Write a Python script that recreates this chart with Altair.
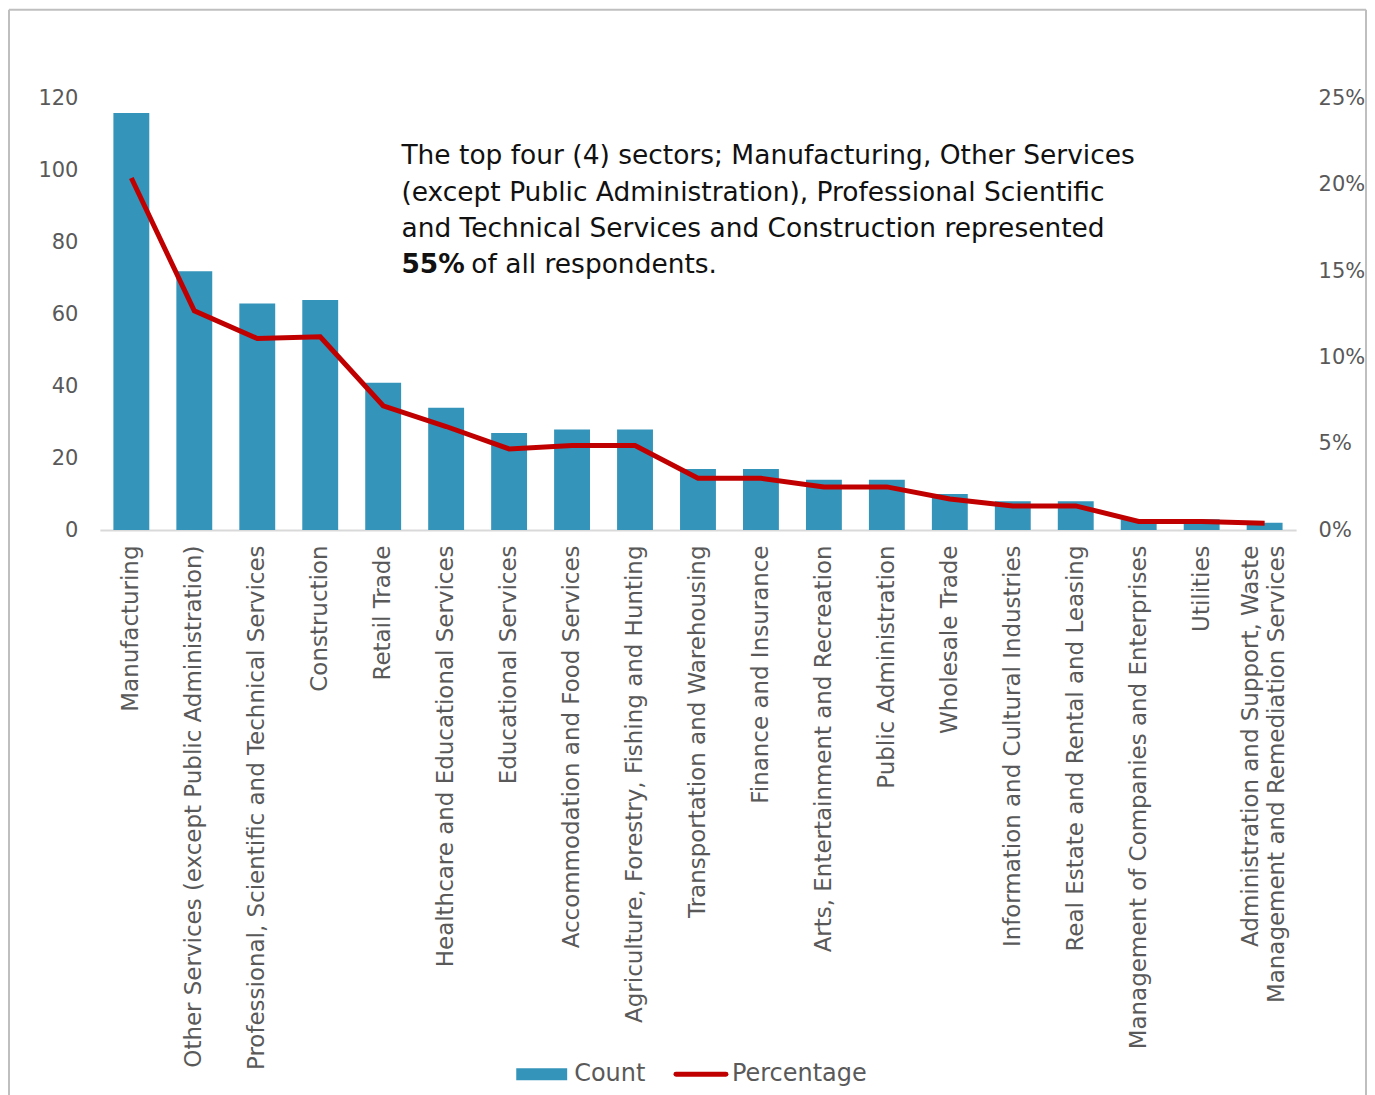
import altair as alt
import pandas as pd

sectors = [
    "Manufacturing",
    "Other Services (except Public Administration)",
    "Professional, Scientific and Technical Services",
    "Construction",
    "Retail Trade",
    "Healthcare and Educational Services",
    "Educational Services",
    "Accommodation and Food Services",
    "Agriculture, Forestry, Fishing and Hunting",
    "Transportation and Warehousing",
    "Finance and Insurance",
    "Arts, Entertainment and Recreation",
    "Public Administration",
    "Wholesale Trade",
    "Information and Cultural Industries",
    "Real Estate and Rental and Leasing",
    "Management of Companies and Enterprises",
    "Utilities",
    "Administration and Support, Waste Management and Remediation Services",
]
counts = [116, 72, 63, 64, 41, 34, 27, 28, 28, 17, 17, 14, 14, 10, 8, 8, 3, 3, 2]
percentages = [20.4, 12.7, 11.1, 11.2, 7.2, 6.0, 4.7, 4.9, 4.9, 3.0, 3.0, 2.5, 2.5,
               1.8, 1.4, 1.4, 0.5, 0.5, 0.4]
left_ticks = [0, 20, 40, 60, 80, 100, 120]
right_ticks = [0, 5, 10, 15, 20, 25]

note_lines = [
    "The top four (4) sectors; Manufacturing, Other Services",
    "(except Public Administration), Professional Scientific",
    "and Technical Services and Construction represented",
]
note_bold = "55%"
note_tail = "of all respondents."
legend_names = ["Count", "Percentage"]

FONT = "DejaVu Sans"
BLUE = "#3494BA"
RED = "#C00000"
GRAY = "#595959"
INK = "#111111"

df = pd.DataFrame({"sector": sectors, "count": counts, "pct": percentages})

long_label = sectors[-1]
label_expr = (
    f"datum.label == '{long_label}' ? "
    "['Administration and Support, Waste', 'Management and Remediation Services'] : datum.label"
)

x_enc = alt.X(
    "sector:N",
    sort=sectors,
    scale=alt.Scale(paddingInner=0.43, paddingOuter=0.215),
    axis=alt.Axis(
        title=None, labelAngle=-90, labelExpr=label_expr, labelFont=FONT,
        labelFontSize=23, labelColor=GRAY, labelPadding=15, ticks=False,
        domainColor="#D9D9D9", domainWidth=2, labelLimit=700, labelLineHeight=26,
        labelOffset={"condition": {"test": f"datum.value == '{long_label}'", "value": -14},
                     "value": 0},
    ),
)

bars = alt.Chart(df).mark_bar(color=BLUE).encode(
    x=x_enc,
    y=alt.Y(
        "count:Q",
        scale=alt.Scale(domain=[0, 120], nice=False),
        axis=alt.Axis(
            title=None, values=left_ticks, grid=False, domain=False, ticks=False,
            labelFont=FONT, labelFontSize=21, labelColor=GRAY, labelPadding=22,
        ),
    ),
)

line = alt.Chart(df).mark_line(color=RED, strokeWidth=5, strokeJoin="miter").encode(
    x=alt.X("sector:N", sort=sectors),
    y=alt.Y(
        "pct:Q",
        scale=alt.Scale(domain=[0, 25], nice=False),
        axis=alt.Axis(
            title=None, orient="right", values=right_ticks, grid=False, domain=False,
            ticks=False, labelExpr="datum.value + '%'", labelFont=FONT,
            labelFontSize=21, labelColor=GRAY, labelPadding=22,
        ),
    ),
)


def text_layer(t, x, y, size, weight="normal", color=INK, baseline="alphabetic"):
    return alt.Chart(pd.DataFrame({"t": [t]})).mark_text(
        align="left", baseline=baseline, font=FONT, fontSize=size,
        fontWeight=weight, color=color
    ).encode(x=alt.value(x), y=alt.value(y), text="t:N")


NOTE_SIZE = 26.5
note_layers = [text_layer(t, 302, 65 + 37 * k, NOTE_SIZE) for k, t in enumerate(note_lines)]
note_layers.append(text_layer(note_bold, 302, 175, NOTE_SIZE, weight="bold"))
note_layers.append(text_layer(note_tail, 372, 175, NOTE_SIZE))

# legend (drawn manually: bar swatch + line swatch)
one = pd.DataFrame({"k": [0]})
LEG_Y = 977
leg_rect = alt.Chart(one).mark_rect(color=BLUE).encode(
    x=alt.value(417), x2=alt.value(468), y=alt.value(LEG_Y - 6), y2=alt.value(LEG_Y + 6)
)
leg_line = alt.Chart(one).mark_rule(color=RED, strokeWidth=5, strokeCap="round").encode(
    x=alt.value(577), x2=alt.value(627), y=alt.value(LEG_Y)
)
leg_text = [
    text_layer(legend_names[0], 475, LEG_Y, 24, color=GRAY, baseline="middle"),
    text_layer(legend_names[1], 633, LEG_Y, 24, color=GRAY, baseline="middle"),
]

# outer frame (top, left, right edges; bottom runs off the page)
frame_top = alt.Chart(one).mark_rule(color="#BFBFBF", strokeWidth=2).encode(
    x=alt.value(-91), x2=alt.value(1268), y=alt.value(-89)
)
frame_left = alt.Chart(one).mark_rule(color="#BFBFBF", strokeWidth=2).encode(
    x=alt.value(-91), y=alt.value(-89), y2=alt.value(1005)
)
frame_right = alt.Chart(one).mark_rule(color="#BFBFBF", strokeWidth=2).encode(
    x=alt.value(1268), y=alt.value(-89), y2=alt.value(1005)
)

chart = alt.layer(
    bars, line, *note_layers, leg_rect, leg_line, *leg_text,
    frame_top, frame_left, frame_right
).resolve_scale(y="independent").properties(
    width=1198, height=432, padding=0
).configure_view(stroke=None)

chart.save("out.html", embed_options={"renderer": "svg", "actions": False})
